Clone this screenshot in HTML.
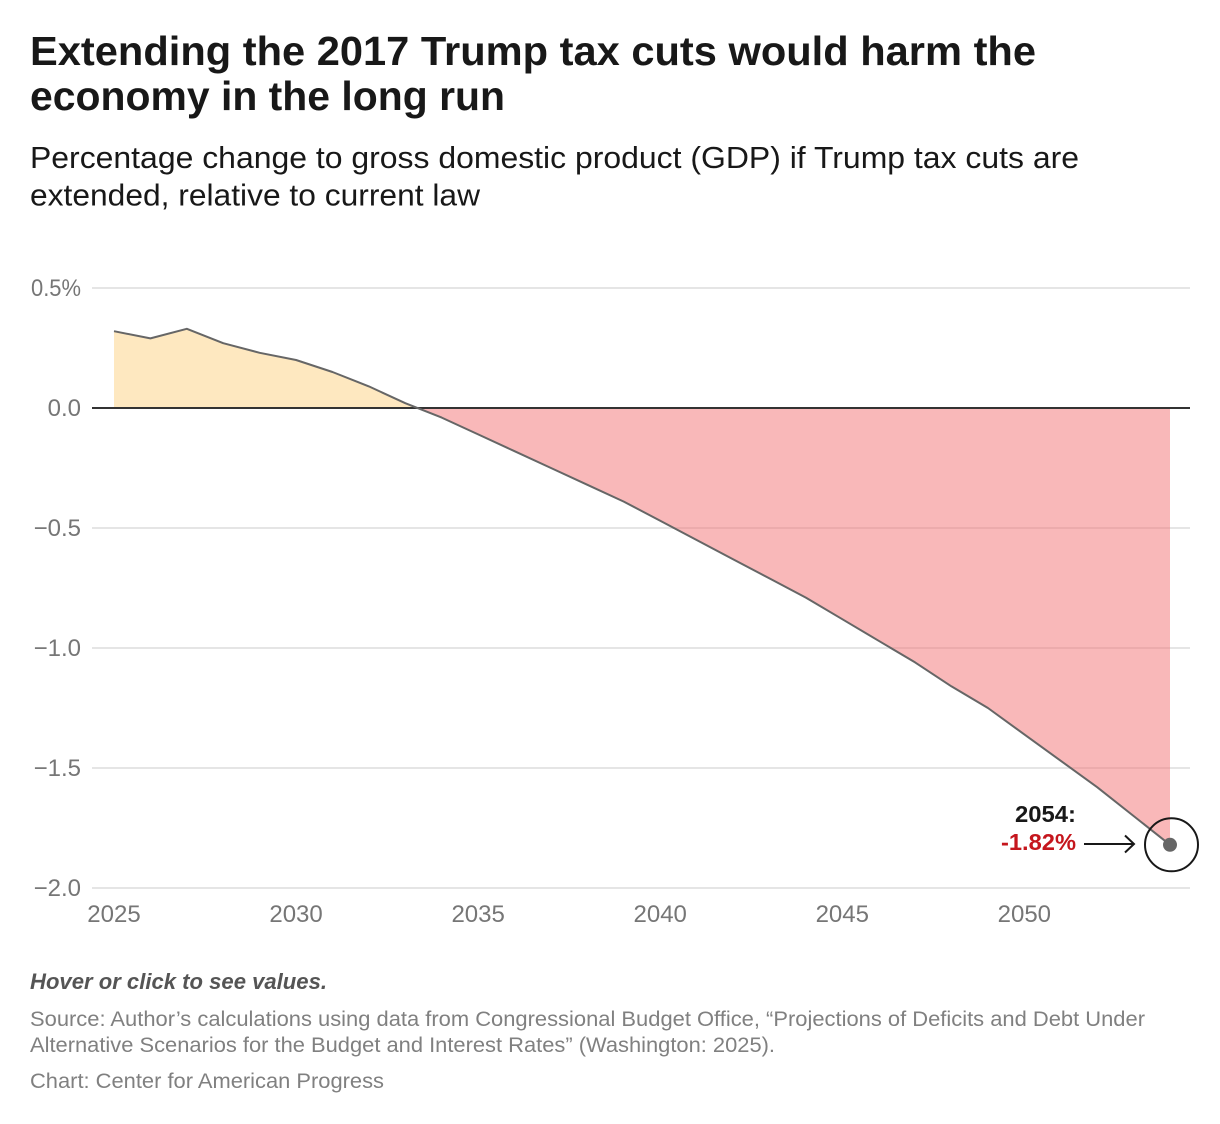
<!DOCTYPE html>
<html lang="en">
<head>
<meta charset="utf-8">
<title>Extending the 2017 Trump tax cuts would harm the economy in the long run</title>
<style>
html,body{margin:0;padding:0;background:#fff;width:1220px;height:1124px;overflow:hidden}
svg{display:block}
text{font-family:"Liberation Sans",Arial,sans-serif}
.tick{font-size:24px;fill:#767676}
.foot{font-size:21.5px;fill:#808080}
</style>
</head>
<body>
<svg id="chart" width="1220" height="1124" viewBox="0 0 1220 1124" xmlns="http://www.w3.org/2000/svg">
  <rect x="0" y="0" width="1220" height="1124" fill="#fff"/>
  <g font-size="41" font-weight="700" fill="#181818">
    <text x="30" y="65" textLength="1006" lengthAdjust="spacingAndGlyphs">Extending the 2017 Trump tax cuts would harm the</text>
    <text x="30" y="110" textLength="475" lengthAdjust="spacingAndGlyphs">economy in the long run</text>
  </g>
  <g font-size="31" fill="#181818">
    <text x="30" y="168" textLength="1049" lengthAdjust="spacingAndGlyphs">Percentage change to gross domestic product (GDP) if Trump tax cuts are</text>
    <text x="30" y="205.500" textLength="450" lengthAdjust="spacingAndGlyphs">extended, relative to current law</text>
  </g>
  <g id="grid"></g>
  <g id="y-axis"></g>
  <g id="x-axis"></g>
  <path id="area-pos" fill="#fdd181" fill-opacity="0.5"/>
  <path id="area-neg" fill="#f37173" fill-opacity="0.5"/>
  <line id="zero-line" stroke="#333" stroke-width="2"/>
  <path id="gdp-line" fill="none" stroke="#666" stroke-width="2" stroke-linejoin="round"/>
  <circle id="end-dot" r="7" fill="#666"/>
  <circle id="end-ring" r="26.500" fill="none" stroke="#181818" stroke-width="2"/>
  <g fill="none" stroke="#181818" stroke-width="2">
    <line x1="1084" y1="844" x2="1134" y2="844"/>
    <polyline points="1125,835.500 1134,844 1125,852.500"/>
  </g>
  <text id="end-year" x="1076" y="822" text-anchor="end" font-size="23" font-weight="700" fill="#181818" textLength="61" lengthAdjust="spacingAndGlyphs"></text>
  <text id="end-value" x="1076" y="850" text-anchor="end" font-size="23" font-weight="700" fill="#c5161d" textLength="75" lengthAdjust="spacingAndGlyphs"></text>
  <text x="30" y="989" font-size="22" font-weight="700" font-style="italic" fill="#555" textLength="297" lengthAdjust="spacingAndGlyphs">Hover or click to see values.</text>
  <g class="foot">
    <text class="foot" x="30" y="1026" textLength="1115" lengthAdjust="spacingAndGlyphs">Source: Author’s calculations using data from Congressional Budget Office, “Projections of Deficits and Debt Under</text>
    <text class="foot" x="30" y="1052" textLength="745" lengthAdjust="spacingAndGlyphs">Alternative Scenarios for the Budget and Interest Rates” (Washington: 2025).</text>
  </g>
  <text class="foot" x="30" y="1088" textLength="354" lengthAdjust="spacingAndGlyphs">Chart: Center for American Progress</text>
</svg>
<script>
const years = [2025,2026,2027,2028,2029,2030,2031,2032,2033,2034,2035,2036,2037,2038,2039,2040,2041,2042,2043,2044,2045,2046,2047,2048,2049,2050,2051,2052,2053,2054];
const gdpChange = [0.32,0.29,0.33,0.27,0.23,0.20,0.15,0.09,0.02,-0.04,-0.11,-0.18,-0.25,-0.32,-0.39,-0.47,-0.55,-0.63,-0.71,-0.79,-0.88,-0.97,-1.06,-1.16,-1.25,-1.36,-1.47,-1.58,-1.70,-1.82];
const yTicks = [0.5,0,-0.5,-1,-1.5,-2];
const yTickLabels = ['0.5%','0.0','−0.5','−1.0','−1.5','−2.0'];
const xTicks = [2025,2030,2035,2040,2045,2050];

const SVGNS = 'http://www.w3.org/2000/svg';
const xScale = v => 114 + (v - 2025) * (1170 - 114) / 29;
const yScale = v => 408 - v * 240;
const GRID_LEFT = 92, GRID_RIGHT = 1190;

const grid = document.getElementById('grid');
const yAxis = document.getElementById('y-axis');
const xAxis = document.getElementById('x-axis');

yTicks.forEach((t, i) => {
  if (t !== 0) {
    const l = document.createElementNS(SVGNS, 'line');
    
    
    l.setAttribute('x1', GRID_LEFT);
    l.setAttribute('x2', GRID_RIGHT);
    l.setAttribute('y1', yScale(t));
    l.setAttribute('y2', yScale(t));
    l.setAttribute('stroke', '#e5e5e5');
    l.setAttribute('stroke-width', '2');
    grid.appendChild(l);
  }
  const txt = document.createElementNS(SVGNS, 'text');
  
  
  txt.setAttribute('class', 'tick');
  txt.setAttribute('x', 81);
  txt.setAttribute('y', yScale(t) + 8);
  txt.setAttribute('text-anchor', 'end');
  if (yTickLabels[i].endsWith('%')) {
    txt.setAttribute('textLength', '50');
    txt.setAttribute('lengthAdjust', 'spacingAndGlyphs');
  }
  txt.textContent = yTickLabels[i];
  yAxis.appendChild(txt);
});

xTicks.forEach(t => {
  const txt = document.createElementNS(SVGNS, 'text');
  
  
  txt.setAttribute('class', 'tick');
  txt.setAttribute('x', xScale(t));
  txt.setAttribute('y', 922);
  txt.setAttribute('text-anchor', 'middle');
  txt.textContent = t;
  xAxis.appendChild(txt);
});

const pts = years.map((y, i) => [xScale(y), yScale(gdpChange[i])]);
document.getElementById('gdp-line').setAttribute('d', 'M' + pts.map(p => p[0].toFixed(2) + ',' + p[1].toFixed(2)).join('L'));

function areaPath(sign) {
  const zero = yScale(0);
  const out = [];
  for (let i = 0; i < years.length; i++) {
    const v = gdpChange[i];
    if (v * sign >= 0) out.push(pts[i]);
    const n = gdpChange[i + 1];
    if (n !== undefined && v * n < 0) {
      const f = v / (v - n);
      out.push([pts[i][0] + f * (pts[i + 1][0] - pts[i][0]), zero]);
    }
  }
  if (!out.length) return '';
  const first = out[0][0], last = out[out.length - 1][0];
  return 'M' + first.toFixed(2) + ',' + zero + out.map(p => 'L' + p[0].toFixed(2) + ',' + p[1].toFixed(2)).join('') + 'L' + last.toFixed(2) + ',' + zero + 'Z';
}
document.getElementById('area-pos').setAttribute('d', areaPath(1));
document.getElementById('area-neg').setAttribute('d', areaPath(-1));

const zl = document.getElementById('zero-line');
zl.setAttribute('x1', GRID_LEFT);
zl.setAttribute('x2', GRID_RIGHT);
zl.setAttribute('y1', yScale(0));
zl.setAttribute('y2', yScale(0));

const endX = pts[pts.length - 1][0], endY = pts[pts.length - 1][1];
const dot = document.getElementById('end-dot');
dot.setAttribute('cx', endX);
dot.setAttribute('cy', endY);
const ring = document.getElementById('end-ring');
ring.setAttribute('cx', endX + 1.5);
ring.setAttribute('cy', endY);
document.getElementById('end-year').textContent = years[years.length - 1] + ':';
document.getElementById('end-value').textContent = gdpChange[gdpChange.length - 1].toFixed(2) + '%';
</script>
</body>
</html>
